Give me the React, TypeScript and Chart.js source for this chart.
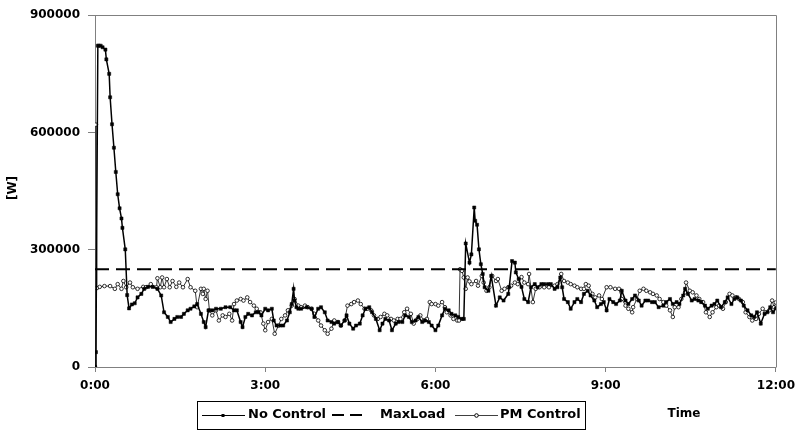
import React, { useEffect, useRef } from "react";
import { Chart, registerables } from "chart.js";

Chart.register(...registerables);

// Time in minutes after 0:00
const noControlTime = [0,1,3,4,6,8,11,12,15,16,18,20,22,24,26,28,29,32,34,36,39,42,45,49,52,56,61,66,70,73,77,80,84,87,91,94,98,101,105,108,112,115,117,120,124,128,133,138,143,147,150,154,156,159,162,166,170,173,176,180,183,187,189,192,196,199,203,206,208,210,211,213,215,218,224,229,232,236,239,243,246,250,253,257,260,264,266,269,273,276,280,283,286,290,293,297,301,304,307,311,314,318,321,325,328,332,335,339,342,346,349,353,356,360,363,367,370,374,377,381,384,388,390,392,396,398,401,402,404,406,408,410,412,416,419,424,428,432,437,438,441,444,445,448,451,454,458,461,465,468,472,475,479,482,486,489,492,494,496,500,503,507,510,514,517,521,524,528,531,535,538,541,544,548,551,555,557,561,564,568,571,575,578,582,585,589,592,596,601,604,608,611,615,618,622,624,627,631,634,638,641,645,648,652,655,658,662,666,669,673,676,679,683,686,690,694,697,700,704,708,711,714,717,720];
const noControlLoad = [0,38000,822000,822000,822000,818000,812000,787000,750000,690000,621000,561000,499000,442000,406000,380000,356000,301000,184000,150000,160000,163000,178000,187000,200000,205000,205000,200000,183000,140000,128000,115000,123000,128000,128000,136000,145000,149000,155000,161000,136000,115000,102000,145000,145000,149000,149000,153000,153000,145000,145000,115000,102000,128000,136000,132000,140000,140000,132000,149000,145000,149000,119000,106000,106000,106000,119000,140000,161000,200000,170000,153000,149000,149000,153000,149000,128000,149000,153000,140000,119000,115000,111000,115000,106000,119000,132000,111000,98000,106000,111000,132000,149000,153000,140000,123000,94000,111000,123000,119000,94000,111000,115000,115000,132000,128000,115000,119000,128000,115000,119000,115000,106000,94000,106000,132000,149000,145000,136000,132000,128000,123000,123000,316000,267000,288000,408000,374000,364000,301000,263000,238000,204000,195000,233000,157000,178000,170000,187000,204000,271000,267000,242000,225000,205000,174000,166000,204000,212000,204000,212000,212000,212000,212000,200000,204000,229000,204000,174000,166000,149000,166000,174000,166000,187000,195000,183000,170000,153000,161000,166000,145000,174000,166000,161000,170000,195000,170000,161000,174000,183000,170000,157000,170000,170000,166000,166000,153000,157000,166000,174000,161000,166000,161000,183000,200000,187000,170000,174000,170000,166000,157000,149000,157000,161000,170000,153000,166000,178000,161000,174000,178000,170000,157000,145000,132000,128000,140000,111000,136000,140000,153000,140000,150000];

const pmControlTime = [0,1,2,5,10,16,21,24,28,30,33,37,40,45,51,54,59,65,66,69,71,73,76,79,82,86,89,93,98,101,106,108,112,114,115,117,119,121,124,128,131,135,138,142,145,147,150,154,157,161,164,168,171,175,178,180,183,187,190,194,197,201,204,208,211,215,218,222,225,229,232,236,239,243,246,250,253,257,260,264,267,271,274,278,281,285,288,292,295,299,302,306,309,313,316,320,323,327,330,334,337,341,344,348,351,354,356,360,363,367,370,372,376,379,383,385,386,388,390,392,394,396,398,403,405,409,411,414,417,420,424,426,430,433,437,440,444,447,451,454,458,459,463,466,470,475,480,486,489,493,496,500,503,507,510,514,517,519,522,526,529,533,536,541,545,550,554,557,561,564,568,569,573,576,580,583,587,590,594,597,601,604,608,611,613,617,620,624,625,629,632,636,639,643,646,650,653,657,660,664,667,671,674,678,681,685,688,692,695,699,702,706,709,713,716,718,720];
const pmControlLoad = [0,620000,202000,205000,207000,207000,200000,212000,200000,220000,204000,216000,204000,200000,205000,204000,212000,204000,227000,204000,229000,204000,225000,204000,220000,205000,216000,204000,225000,204000,195000,153000,200000,187000,200000,174000,195000,145000,132000,145000,119000,132000,128000,136000,119000,161000,170000,174000,170000,178000,166000,157000,149000,140000,111000,94000,115000,123000,85000,106000,123000,132000,145000,157000,174000,157000,153000,157000,153000,149000,136000,119000,106000,94000,85000,98000,119000,115000,106000,119000,157000,161000,166000,170000,161000,149000,149000,145000,132000,123000,128000,136000,132000,123000,119000,123000,123000,140000,149000,136000,111000,123000,132000,119000,123000,166000,161000,161000,157000,166000,153000,140000,132000,123000,119000,119000,250000,246000,229000,200000,229000,219000,212000,220000,208000,233000,216000,195000,204000,233000,220000,225000,195000,200000,204000,208000,216000,212000,230000,216000,212000,238000,166000,200000,204000,204000,204000,208000,212000,238000,220000,216000,212000,208000,204000,200000,200000,212000,208000,187000,178000,183000,174000,204000,204000,200000,200000,174000,157000,149000,140000,153000,174000,195000,200000,195000,191000,187000,183000,174000,166000,157000,145000,128000,153000,153000,174000,191000,216000,195000,191000,183000,174000,166000,140000,128000,140000,153000,157000,149000,166000,187000,183000,178000,174000,166000,140000,128000,119000,123000,136000,149000,140000,145000,170000,153000,165000];

const maxLoadTime = [0, 720];
const maxLoadValue = [250000, 250000];

const xTicks = [0, 180, 360, 540, 720];
const xTickLabels = ["0:00", "3:00", "6:00", "9:00", "12:00"];
const yTicks = [0, 300000, 600000, 900000];

const seriesNames = ["No Control", "MaxLoad", "PM Control"];

const FONT = "'DejaVu Sans', sans-serif";

const toXY = (t: number[], v: number[]) => t.map((x, i) => ({ x, y: v[i] }));

const decorPlugin = {
  id: "decor",
  beforeDatasetsDraw(chart: any) {
    const { ctx, chartArea } = chart;
    ctx.save();
    ctx.strokeStyle = "#808080";
    ctx.lineWidth = 1;
    ctx.beginPath();
    ctx.moveTo(Math.round(chartArea.left) + 0.5, Math.round(chartArea.top) + 0.5);
    ctx.lineTo(Math.round(chartArea.right) + 0.5, Math.round(chartArea.top) + 0.5);
    ctx.lineTo(Math.round(chartArea.right) + 0.5, Math.round(chartArea.bottom) + 0.5);
    ctx.stroke();
    ctx.restore();
  },
  afterDraw(chart: any) {
    const { ctx } = chart;
    ctx.save();
    // y axis title
    ctx.fillStyle = "#000";
    ctx.font = `bold 12px ${FONT}`;
    ctx.textAlign = "center";
    ctx.textBaseline = "middle";
    ctx.save();
    ctx.translate(13, 188);
    ctx.rotate(-Math.PI / 2);
    ctx.fillText("[W]", 0, 0);
    ctx.restore();
    // x axis title
    ctx.fillText("Time", 684, 414);

    // legend
    const top = 401, bottom = 429, left = 197, right = 585;
    ctx.strokeStyle = "#000";
    ctx.lineWidth = 1;
    ctx.strokeRect(left + 0.5, top + 0.5, right - left, bottom - top);
    const ry = 415;
    ctx.font = `bold 13px ${FONT}`;
    ctx.textAlign = "left";
    // No Control
    ctx.beginPath();
    ctx.moveTo(202, ry + 0.5);
    ctx.lineTo(245, ry + 0.5);
    ctx.stroke();
    ctx.fillStyle = "#000";
    ctx.fillRect(221.5, ry - 1, 3, 3);
    ctx.fillText(seriesNames[0], 248, ry);
    // MaxLoad
    ctx.lineWidth = 2;
    ctx.beginPath();
    ctx.moveTo(332, ry);
    ctx.lineTo(344, ry);
    ctx.moveTo(350, ry);
    ctx.lineTo(362, ry);
    ctx.stroke();
    ctx.fillText(seriesNames[1], 380, ry);
    // PM Control
    ctx.lineWidth = 1;
    ctx.strokeStyle = "#404040";
    ctx.beginPath();
    ctx.moveTo(455, ry + 0.5);
    ctx.lineTo(498, ry + 0.5);
    ctx.stroke();
    ctx.beginPath();
    ctx.arc(476.5, ry + 0.5, 1.8, 0, Math.PI * 2);
    ctx.fillStyle = "#fff";
    ctx.fill();
    ctx.strokeStyle = "#000";
    ctx.stroke();
    ctx.fillStyle = "#000";
    ctx.fillText(seriesNames[2], 500, ry);
    ctx.restore();
  },
};

export default function App() {
  const canvasRef = useRef<HTMLCanvasElement | null>(null);

  useEffect(() => {
    document.body.style.margin = "0";
    const canvas = canvasRef.current;
    if (!canvas) return;
    const tickFont = { family: FONT, size: 12, weight: "bold" as const };
    const chart = new Chart(canvas, {
      type: "line",
      data: {
        datasets: [
          {
            label: seriesNames[0],
            data: toXY(noControlTime, noControlLoad),
            borderColor: "#000",
            borderWidth: 1.5,
            pointStyle: "rect",
            pointRadius: 2.2,
            pointBackgroundColor: "#000",
            pointBorderColor: "#000",
            pointBorderWidth: 0.5,
            tension: 0,
          },
          {
            label: seriesNames[1],
            data: toXY(maxLoadTime, maxLoadValue),
            borderColor: "#000",
            borderWidth: 2,
            borderDash: [14, 7],
            pointRadius: 0,
            tension: 0,
          },
          {
            label: seriesNames[2],
            data: toXY(pmControlTime, pmControlLoad),
            borderColor: "#333",
            borderWidth: 1,
            pointStyle: "circle",
            pointRadius: 1.8,
            pointBackgroundColor: "#fff",
            pointBorderColor: "#000",
            pointBorderWidth: 0.8,
            tension: 0,
          },
        ],
      },
      options: {
        animation: false,
        responsive: false,
        devicePixelRatio: 1,
        layout: { padding: { top: 12, right: 21, bottom: 0, left: 0 } },
        plugins: { legend: { display: false }, tooltip: { enabled: false } },
        scales: {
          x: {
            type: "linear",
            min: 0,
            max: 720,
            afterFit: (s: any) => {
              s.height = 70;
            },
            afterBuildTicks: (s: any) => {
              s.ticks = xTicks.map((v) => ({ value: v }));
            },
            ticks: {
              autoSkip: false,
              maxRotation: 0,
              padding: 7,
              color: "#000",
              font: tickFont,
              callback: (v: any) => xTickLabels[xTicks.indexOf(Number(v))] ?? "",
            },
            grid: { drawOnChartArea: false, drawTicks: true, tickLength: 5, color: "#808080" },
            border: { display: true, color: "#808080", width: 1 },
          },
          y: {
            type: "linear",
            min: 0,
            max: 900000,
            afterFit: (s: any) => {
              s.width = 95;
            },
            afterBuildTicks: (s: any) => {
              s.ticks = yTicks.map((v) => ({ value: v }));
            },
            ticks: {
              padding: 8,
              color: "#000",
              font: tickFont,
              callback: (v: any) => String(v),
            },
            grid: { drawOnChartArea: false, drawTicks: true, tickLength: 7, color: "#808080" },
            border: { display: true, color: "#808080", width: 1 },
          },
        },
      },
      plugins: [decorPlugin],
    });
    return () => chart.destroy();
  }, []);

  return (
    <div style={{ width: 802, height: 437, background: "#fff" }}>
      <canvas ref={canvasRef} width={802} height={437} style={{ display: "block" }} />
    </div>
  );
}
